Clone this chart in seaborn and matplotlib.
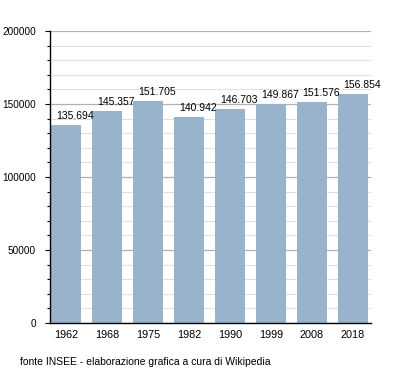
import matplotlib
matplotlib.use("Agg")
import matplotlib.pyplot as plt
import seaborn as sns
import pandas as pd
from matplotlib.ticker import MultipleLocator

# data
years = ["1962", "1968", "1975", "1982", "1990", "1999", "2008", "2018"]
population = [135694, 145357, 151705, 140942, 146703, 149867, 151576, 156854]
labels = ["135.694", "145.357", "151.705", "140.942", "146.703", "149.867", "151.576", "156.854"]

df = pd.DataFrame({"Anno": years, "Popolazione": population})

sns.set_style("white")
plt.rcParams["font.family"] = ["Liberation Sans", "DejaVu Sans"]
plt.rcParams["text.color"] = "black"
plt.rcParams["xtick.color"] = "black"
plt.rcParams["ytick.color"] = "black"

fig = plt.figure(figsize=(4, 3.73), dpi=100)
ax = fig.add_axes([0.125, 0.134, 0.8025, 0.783])

# grid first so bars sit on top
ax.set_axisbelow(True)
ax.yaxis.set_major_locator(MultipleLocator(50000))
ax.yaxis.set_minor_locator(MultipleLocator(10000))
ax.grid(axis="y", which="major", color="#b0b0b0", lw=0.9)
ax.grid(axis="y", which="minor", color="#e0e0e0", lw=0.8)

sns.barplot(data=df, x="Anno", y="Popolazione", color="#99b3cc", width=0.74,
            saturation=1, linewidth=0, ax=ax)

# value labels sit a bit right of the bar centre, like the original
for i, (v, lab) in enumerate(zip(population, labels)):
    ax.annotate(lab, xy=(i, v), xytext=(6.5, 3), textcoords="offset points",
                ha="center", va="bottom", fontsize=7.5)

ax.set_ylim(0, 200000)
ax.set_xlim(-0.39, len(years) - 0.56)
ax.set_xlabel("")
ax.set_ylabel("")

for s in ["top", "right"]:
    ax.spines[s].set_visible(False)
ax.spines["left"].set_color("black")
ax.spines["bottom"].set_color("black")
ax.spines["left"].set_linewidth(1)
ax.spines["bottom"].set_linewidth(1)

ax.tick_params(axis="y", which="major", left=True, length=3.5, width=0.8, labelsize=7.2, pad=6.5)
ax.tick_params(axis="y", which="minor", left=True, length=2, width=0.8)
ax.tick_params(axis="x", bottom=False, labelsize=7.8, pad=1.5)

fig.text(0.05, 0.022, "fonte INSEE - elaborazione grafica a cura di Wikipedia", fontsize=7.5)

fig.savefig("out.png", dpi=100, facecolor="white")
